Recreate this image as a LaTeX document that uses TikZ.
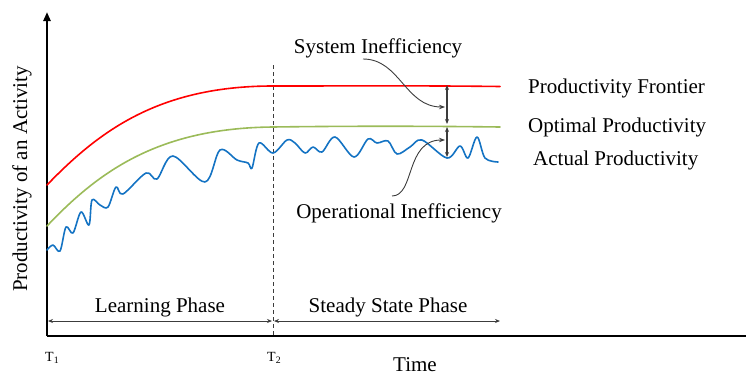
\documentclass[tikz,border=0pt]{standalone}
\usepackage{fontspec}
\setmainfont{Liberation Serif}
\usetikzlibrary{arrows.meta}
\definecolor{frontier}{RGB}{255,0,0}
\definecolor{optimal}{RGB}{155,187,89}
\definecolor{actual}{RGB}{20,115,195}
\definecolor{guide}{RGB}{60,60,60}
\begin{document}
\begin{tikzpicture}[x=1pt,y=-1pt,
  axis/.style={line width=2.2pt,black},
  curve/.style={line width=1.6pt,line join=round,line cap=round},
  label/.style={font=\fontsize{21}{25}\selectfont,inner sep=0pt},
  tick/.style={font=\fontsize{14}{16}\selectfont,inner sep=0pt},
  span/.style={line width=0.8pt,guide,{Stealth[length=5pt,width=4pt]}-{Stealth[length=5pt,width=4pt]}},
  gap/.style={line width=1.2pt,guide,{Stealth[length=5pt,width=4pt]}-{Stealth[length=5pt,width=4pt]}},
  pointer/.style={line width=0.9pt,guide,-{Stealth[length=6pt,width=4.5pt]}}]
\useasboundingbox (0,0) rectangle (746,375);

% axes
\coordinate (origin) at (47,336);
\coordinate (ytop) at (47,12);
\coordinate (xend) at (746,336);
\draw[axis,-{Triangle[length=9pt,width=7pt]}] (origin) -- (ytop);
\draw[axis] (origin) -- (xend);

% phase boundary
\coordinate (t2top) at (273,65);
\coordinate (t2bot) at (273,336);
\draw[guide,line width=0.8pt,dash pattern=on 4pt off 3pt] (t2top) -- (t2bot);

% productivity frontier
\draw[curve,frontier] (47,185) .. controls (100,130) and (160,86) .. (273,86)
  .. controls (350,86) and (420,85.5) .. (500,86.5);

% optimal productivity
\draw[curve,optimal] (47,226) .. controls (100,170) and (160,128) .. (273,127)
  .. controls (350,126) and (420,126) .. (500,127);

% actual productivity
\draw[curve,actual] plot[smooth,tension=0.55] coordinates {
  (47,250) (53,245) (60,251) (66,227) (73,233) (81,212) (89,225)
  (92,200) (100,205) (108,207) (116,187) (123,194) (146,173) (157,179)
  (173,156) (205,182) (220,150) (237,160) (248,163) (252,168) (259,143)
  (273,153) (287,140) (295,143) (305,153) (313,147) (322,152) (335,137)
  (354,157) (368,139) (377,143) (388,141) (397,154) (410,147) (422,140)
  (447,158) (460,146) (468,158) (477,137) (485,158) (498,162)};

% gaps between the curves
\coordinate (gf) at (447,85);
\coordinate (go1) at (447,124);
\coordinate (go2) at (447,127);
\coordinate (ga) at (447,157);
\draw[gap] (gf) -- (go1);
\draw[gap] (go2) -- (ga);

% curve labels
\node[label,anchor=west] (lfront) at (528,88) {Productivity Frontier};
\node[label,anchor=west] (lopt) at (528,127) {Optimal Productivity};
\node[label,anchor=west] (lact) at (533,160) {Actual Productivity};

% inefficiency labels and pointers
\node[label] (sysin) at (378,48) {System Inefficiency};
\node[label] (opin) at (399,213) {Operational Inefficiency};
\coordinate (sysfrom) at (363,59);
\coordinate (systo) at (445,107);
\coordinate (opfrom) at (392,196);
\coordinate (opto) at (445,140);
\draw[pointer] (sysfrom) .. controls (400,59) and (405,107) .. (systo);
\draw[pointer] (opfrom) .. controls (415,196) and (405,140) .. (opto);

% phases
\coordinate (p1a) at (48,321);
\coordinate (p1b) at (272,321);
\coordinate (p2a) at (274,321);
\coordinate (p2b) at (500,321);
\draw[span] (p1a) -- (p1b);
\draw[span] (p2a) -- (p2b);
\node[label] (learn) at (160,307) {Learning Phase};
\node[label] (steady) at (388,307) {Steady State Phase};

% axis labels
\node[tick,anchor=west] (t1) at (45,358) {T\textsubscript{1}};
\node[tick,anchor=west] (t2) at (267,358) {T\textsubscript{2}};
\node[label] (time) at (415,365) {Time};
\node[label,rotate=90] (ylab) at (22,179) {Productivity of an Activity};
\end{tikzpicture}
\end{document}
